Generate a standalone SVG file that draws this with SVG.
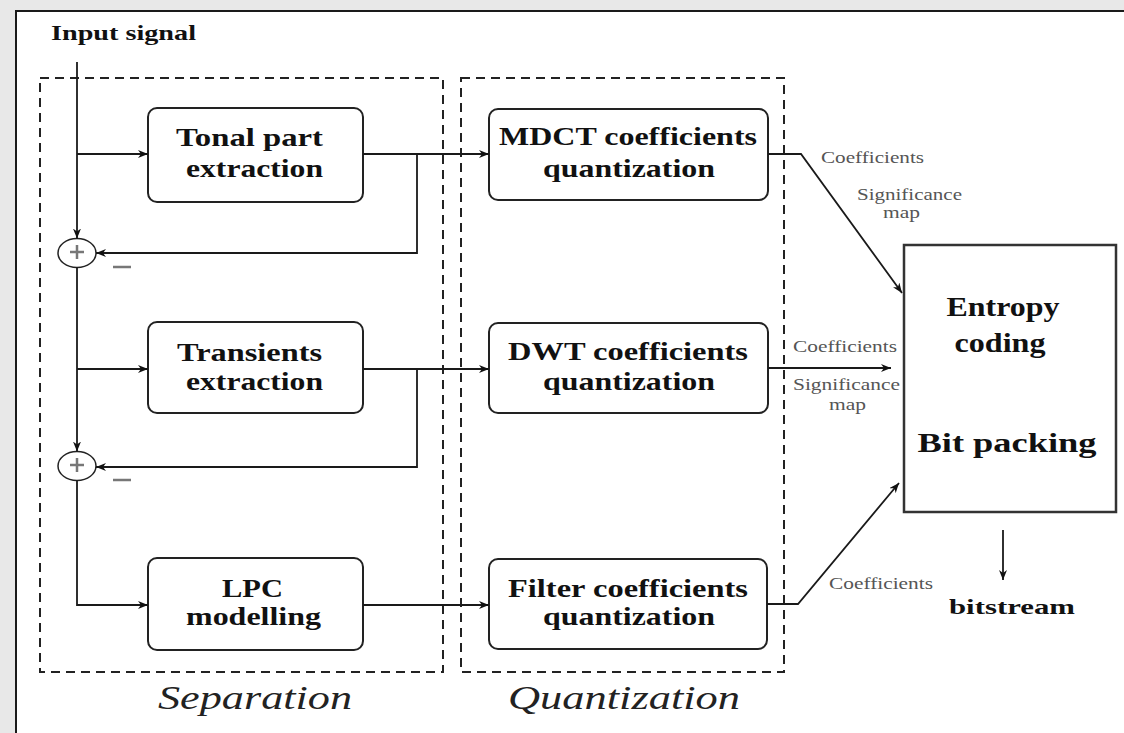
<svg xmlns="http://www.w3.org/2000/svg" width="1124" height="733" viewBox="0 0 1124 733">
<style>
.bg{fill:#e8e8e8}
.panel{fill:#ffffff;stroke:#1a1a1a;stroke-width:2}
.dash{fill:none;stroke:#222;stroke-width:2;stroke-dasharray:9 6}
.box{fill:#fff;stroke:#222;stroke-width:2}
.ln{fill:none;stroke:#1a1a1a;stroke-width:1.8}
.b{font-family:"Liberation Serif","Times New Roman",serif;font-weight:bold;fill:#111;text-anchor:middle}
.s{font-family:"Liberation Serif","Times New Roman",serif;font-size:17px;fill:#555}
.it{font-family:"Liberation Serif","Times New Roman",serif;font-style:italic;font-size:34px;fill:#222;text-anchor:middle}
.sum{fill:#fff;stroke:#222;stroke-width:1.5}
.gr{stroke:#777;stroke-width:2.5}
</style>
<defs>
<marker id="ah" viewBox="0 0 10 8" refX="10" refY="4" markerWidth="10" markerHeight="8" markerUnits="userSpaceOnUse" orient="auto">
<path d="M0,0 L10,4 L0,8 L3,4 z" fill="#111"/>
</marker>
</defs>
<rect class="bg" x="0" y="0" width="1124" height="733"/>
<path class="panel" d="M16,740 L16,11 L1130,11 L1130,740 Z"/>
<g id="separation-frame">
<rect class="dash" x="40" y="78" width="403" height="594"/>
<text class="it" x="255" y="709" textLength="194" lengthAdjust="spacingAndGlyphs">Separation</text>
</g>
<g id="quantization-frame">
<rect class="dash" x="461" y="78" width="323" height="594"/>
<text class="it" x="624" y="709" textLength="232" lengthAdjust="spacingAndGlyphs">Quantization</text>
</g>
<g id="input">
<text class="b" x="51" y="40" font-size="21" textLength="145" lengthAdjust="spacingAndGlyphs" style="text-anchor:start">Input signal</text>
</g>
<g id="tonal">
<rect class="box" x="148" y="108" width="215" height="94" rx="9"/>
<text class="b" x="249.5" y="146" font-size="26" textLength="147" lengthAdjust="spacingAndGlyphs">Tonal part</text>
<text class="b" x="254.5" y="177" font-size="26" textLength="137" lengthAdjust="spacingAndGlyphs">extraction</text>
</g>
<g id="transients">
<rect class="box" x="148" y="322" width="215" height="91" rx="9"/>
<text class="b" x="249.5" y="361" font-size="26" textLength="145" lengthAdjust="spacingAndGlyphs">Transients</text>
<text class="b" x="254.5" y="390" font-size="26" textLength="137" lengthAdjust="spacingAndGlyphs">extraction</text>
</g>
<g id="lpc">
<rect class="box" x="148" y="558" width="215" height="92" rx="9"/>
<text class="b" x="252.5" y="597" font-size="26" textLength="61" lengthAdjust="spacingAndGlyphs">LPC</text>
<text class="b" x="253.5" y="625" font-size="26" textLength="135" lengthAdjust="spacingAndGlyphs">modelling</text>
</g>
<g id="mdct">
<rect class="box" x="489" y="109" width="279" height="91" rx="9"/>
<text class="b" x="628" y="145" font-size="26" textLength="258" lengthAdjust="spacingAndGlyphs">MDCT coefficients</text>
<text class="b" x="629" y="177" font-size="26" textLength="172" lengthAdjust="spacingAndGlyphs">quantization</text>
</g>
<g id="dwt">
<rect class="box" x="489" y="323" width="279" height="90" rx="9"/>
<text class="b" x="628" y="360" font-size="26" textLength="240" lengthAdjust="spacingAndGlyphs">DWT coefficients</text>
<text class="b" x="629" y="390" font-size="26" textLength="172" lengthAdjust="spacingAndGlyphs">quantization</text>
</g>
<g id="filter">
<rect class="box" x="489" y="559" width="278" height="90" rx="9"/>
<text class="b" x="628" y="597" font-size="26" textLength="240" lengthAdjust="spacingAndGlyphs">Filter coefficients</text>
<text class="b" x="629" y="625" font-size="26" textLength="172" lengthAdjust="spacingAndGlyphs">quantization</text>
</g>
<g id="entropy">
<rect x="904" y="245" width="212" height="267" fill="#fff" stroke="#333" stroke-width="2.5"/>
<text class="b" x="1003" y="316" font-size="27" textLength="113" lengthAdjust="spacingAndGlyphs">Entropy</text>
<text class="b" x="1000" y="352" font-size="27" textLength="91" lengthAdjust="spacingAndGlyphs">coding</text>
<text class="b" x="1007" y="452" font-size="27" textLength="179" lengthAdjust="spacingAndGlyphs">Bit packing</text>
</g>
<g id="bitstream">
<text class="b" x="1012" y="614" font-size="21" textLength="126" lengthAdjust="spacingAndGlyphs">bitstream</text>
</g>
<g id="sum1">
<ellipse class="sum" cx="77" cy="253" rx="19" ry="14.5"/>
<path class="gr" d="M70,252 H84 M77,245 V259"/>
<path class="gr" d="M113,267 H131"/>
</g>
<g id="sum2">
<ellipse class="sum" cx="77" cy="466" rx="19" ry="14.5"/>
<path class="gr" d="M70,465 H84 M77,458 V472"/>
<path class="gr" d="M113,480 H131"/>
</g>
<g id="connectors">
<path class="ln" d="M77,62 V238.5" marker-end="url(#ah)"/>
<path class="ln" d="M77,154 H148" marker-end="url(#ah)"/>
<path class="ln" d="M363,154 H489" marker-end="url(#ah)"/>
<path class="ln" d="M417,154 V253 H96" marker-end="url(#ah)"/>
<path class="ln" d="M77,267.5 V451.5" marker-end="url(#ah)"/>
<path class="ln" d="M77,369 H148" marker-end="url(#ah)"/>
<path class="ln" d="M363,369 H489" marker-end="url(#ah)"/>
<path class="ln" d="M417,369 V467 H96" marker-end="url(#ah)"/>
<path class="ln" d="M77,480.5 V605 H148" marker-end="url(#ah)"/>
<path class="ln" d="M363,605 H489" marker-end="url(#ah)"/>
<path class="ln" d="M768,154 H801 L902,293" marker-end="url(#ah)"/>
<path class="ln" d="M768,368 H891" marker-end="url(#ah)"/>
<path class="ln" d="M767,604 H798 L899,483" marker-end="url(#ah)"/>
<path class="ln" d="M1003,530 V580" marker-end="url(#ah)"/>
</g>
<g id="labels">
<text class="s" x="821" y="163" textLength="103" lengthAdjust="spacingAndGlyphs">Coefficients</text>
<text class="s" x="857" y="200" textLength="105" lengthAdjust="spacingAndGlyphs">Significance</text>
<text class="s" x="883" y="218" textLength="37" lengthAdjust="spacingAndGlyphs">map</text>
<text class="s" x="793" y="352" textLength="104" lengthAdjust="spacingAndGlyphs">Coefficients</text>
<text class="s" x="793" y="390" textLength="107" lengthAdjust="spacingAndGlyphs">Significance</text>
<text class="s" x="829" y="410" textLength="37" lengthAdjust="spacingAndGlyphs">map</text>
<text class="s" x="829" y="589" textLength="104" lengthAdjust="spacingAndGlyphs">Coefficients</text>
</g>
</svg>
